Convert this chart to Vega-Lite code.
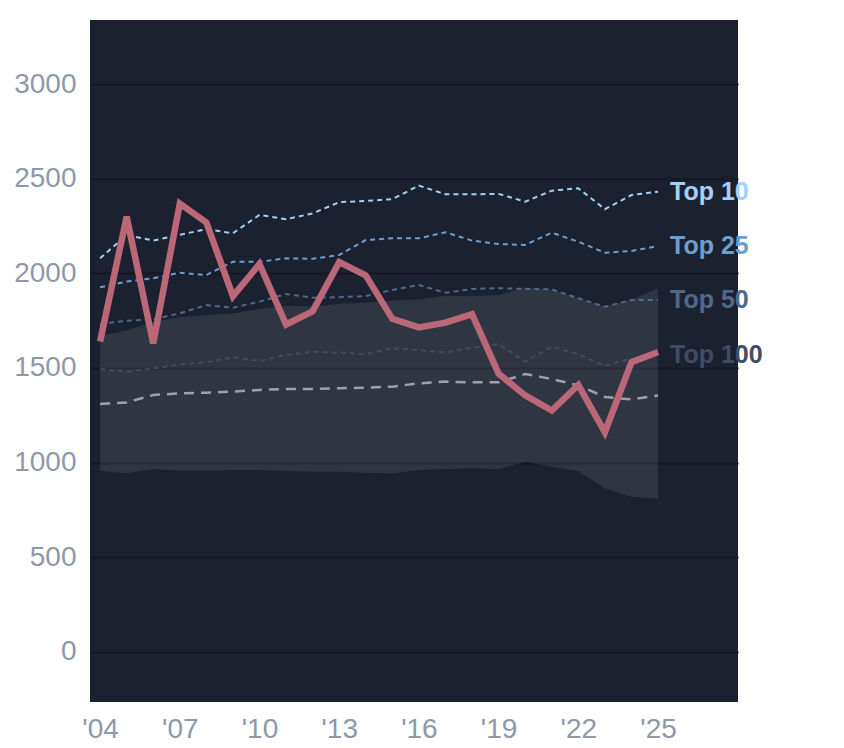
{
  "$schema": "https://vega.github.io/schema/vega-lite/v6.json",
  "width": 648,
  "height": 682,
  "autosize": {"type": "none"},
  "padding": {"left": 90, "top": 20, "right": 106, "bottom": 46},
  "background": "#ffffff",
  "datasets": {
    "band": [
      {"year": 2004, "lo": 955, "hi": 1670},
      {"year": 2005, "lo": 943, "hi": 1699},
      {"year": 2006, "lo": 966, "hi": 1745},
      {"year": 2007, "lo": 957, "hi": 1769},
      {"year": 2008, "lo": 957, "hi": 1779},
      {"year": 2009, "lo": 960, "hi": 1788},
      {"year": 2010, "lo": 960, "hi": 1813},
      {"year": 2011, "lo": 955, "hi": 1829},
      {"year": 2012, "lo": 951, "hi": 1824},
      {"year": 2013, "lo": 951, "hi": 1840},
      {"year": 2014, "lo": 946, "hi": 1845},
      {"year": 2015, "lo": 943, "hi": 1857},
      {"year": 2016, "lo": 960, "hi": 1862},
      {"year": 2017, "lo": 966, "hi": 1882},
      {"year": 2018, "lo": 969, "hi": 1880},
      {"year": 2019, "lo": 966, "hi": 1886},
      {"year": 2020, "lo": 1004, "hi": 1927},
      {"year": 2021, "lo": 978, "hi": 1913},
      {"year": 2022, "lo": 955, "hi": 1869},
      {"year": 2023, "lo": 863, "hi": 1824},
      {"year": 2024, "lo": 819, "hi": 1863},
      {"year": 2025, "lo": 807, "hi": 1920}
    ],
    "series": [
      {"year": 2004, "group": "Top 10", "value": 2080},
      {"year": 2005, "group": "Top 10", "value": 2204},
      {"year": 2006, "group": "Top 10", "value": 2174},
      {"year": 2007, "group": "Top 10", "value": 2205},
      {"year": 2008, "group": "Top 10", "value": 2234},
      {"year": 2009, "group": "Top 10", "value": 2213},
      {"year": 2010, "group": "Top 10", "value": 2310},
      {"year": 2011, "group": "Top 10", "value": 2287},
      {"year": 2012, "group": "Top 10", "value": 2318},
      {"year": 2013, "group": "Top 10", "value": 2377},
      {"year": 2014, "group": "Top 10", "value": 2384},
      {"year": 2015, "group": "Top 10", "value": 2393},
      {"year": 2016, "group": "Top 10", "value": 2465},
      {"year": 2017, "group": "Top 10", "value": 2419},
      {"year": 2018, "group": "Top 10", "value": 2419},
      {"year": 2019, "group": "Top 10", "value": 2421},
      {"year": 2020, "group": "Top 10", "value": 2380},
      {"year": 2021, "group": "Top 10", "value": 2438},
      {"year": 2022, "group": "Top 10", "value": 2451},
      {"year": 2023, "group": "Top 10", "value": 2340},
      {"year": 2024, "group": "Top 10", "value": 2415},
      {"year": 2025, "group": "Top 10", "value": 2433},
      {"year": 2004, "group": "Top 25", "value": 1927},
      {"year": 2005, "group": "Top 25", "value": 1957},
      {"year": 2006, "group": "Top 25", "value": 1975},
      {"year": 2007, "group": "Top 25", "value": 2004},
      {"year": 2008, "group": "Top 25", "value": 1992},
      {"year": 2009, "group": "Top 25", "value": 2062},
      {"year": 2010, "group": "Top 25", "value": 2062},
      {"year": 2011, "group": "Top 25", "value": 2080},
      {"year": 2012, "group": "Top 25", "value": 2078},
      {"year": 2013, "group": "Top 25", "value": 2098},
      {"year": 2014, "group": "Top 25", "value": 2177},
      {"year": 2015, "group": "Top 25", "value": 2186},
      {"year": 2016, "group": "Top 25", "value": 2186},
      {"year": 2017, "group": "Top 25", "value": 2218},
      {"year": 2018, "group": "Top 25", "value": 2174},
      {"year": 2019, "group": "Top 25", "value": 2156},
      {"year": 2020, "group": "Top 25", "value": 2151},
      {"year": 2021, "group": "Top 25", "value": 2216},
      {"year": 2022, "group": "Top 25", "value": 2168},
      {"year": 2023, "group": "Top 25", "value": 2110},
      {"year": 2024, "group": "Top 25", "value": 2119},
      {"year": 2025, "group": "Top 25", "value": 2145},
      {"year": 2004, "group": "Top 50", "value": 1733},
      {"year": 2005, "group": "Top 50", "value": 1750},
      {"year": 2006, "group": "Top 50", "value": 1758},
      {"year": 2007, "group": "Top 50", "value": 1789},
      {"year": 2008, "group": "Top 50", "value": 1833},
      {"year": 2009, "group": "Top 50", "value": 1819},
      {"year": 2010, "group": "Top 50", "value": 1851},
      {"year": 2011, "group": "Top 50", "value": 1891},
      {"year": 2012, "group": "Top 50", "value": 1872},
      {"year": 2013, "group": "Top 50", "value": 1874},
      {"year": 2014, "group": "Top 50", "value": 1881},
      {"year": 2015, "group": "Top 50", "value": 1913},
      {"year": 2016, "group": "Top 50", "value": 1939},
      {"year": 2017, "group": "Top 50", "value": 1898},
      {"year": 2018, "group": "Top 50", "value": 1918},
      {"year": 2019, "group": "Top 50", "value": 1922},
      {"year": 2020, "group": "Top 50", "value": 1918},
      {"year": 2021, "group": "Top 50", "value": 1916},
      {"year": 2022, "group": "Top 50", "value": 1869},
      {"year": 2023, "group": "Top 50", "value": 1824},
      {"year": 2024, "group": "Top 50", "value": 1860},
      {"year": 2025, "group": "Top 50", "value": 1860},
      {"year": 2004, "group": "Top 100", "value": 1495},
      {"year": 2005, "group": "Top 100", "value": 1480},
      {"year": 2006, "group": "Top 100", "value": 1498},
      {"year": 2007, "group": "Top 100", "value": 1519},
      {"year": 2008, "group": "Top 100", "value": 1530},
      {"year": 2009, "group": "Top 100", "value": 1557},
      {"year": 2010, "group": "Top 100", "value": 1537},
      {"year": 2011, "group": "Top 100", "value": 1569},
      {"year": 2012, "group": "Top 100", "value": 1586},
      {"year": 2013, "group": "Top 100", "value": 1581},
      {"year": 2014, "group": "Top 100", "value": 1574},
      {"year": 2015, "group": "Top 100", "value": 1604},
      {"year": 2016, "group": "Top 100", "value": 1595},
      {"year": 2017, "group": "Top 100", "value": 1581},
      {"year": 2018, "group": "Top 100", "value": 1607},
      {"year": 2019, "group": "Top 100", "value": 1627},
      {"year": 2020, "group": "Top 100", "value": 1533},
      {"year": 2021, "group": "Top 100", "value": 1613},
      {"year": 2022, "group": "Top 100", "value": 1572},
      {"year": 2023, "group": "Top 100", "value": 1511},
      {"year": 2024, "group": "Top 100", "value": 1550},
      {"year": 2025, "group": "Top 100", "value": 1570},
      {"year": 2004, "group": "Median", "value": 1310},
      {"year": 2005, "group": "Median", "value": 1318},
      {"year": 2006, "group": "Median", "value": 1357},
      {"year": 2007, "group": "Median", "value": 1366},
      {"year": 2008, "group": "Median", "value": 1369},
      {"year": 2009, "group": "Median", "value": 1375},
      {"year": 2010, "group": "Median", "value": 1384},
      {"year": 2011, "group": "Median", "value": 1389},
      {"year": 2012, "group": "Median", "value": 1389},
      {"year": 2013, "group": "Median", "value": 1393},
      {"year": 2014, "group": "Median", "value": 1396},
      {"year": 2015, "group": "Median", "value": 1401},
      {"year": 2016, "group": "Median", "value": 1419},
      {"year": 2017, "group": "Median", "value": 1428},
      {"year": 2018, "group": "Median", "value": 1424},
      {"year": 2019, "group": "Median", "value": 1424},
      {"year": 2020, "group": "Median", "value": 1468},
      {"year": 2021, "group": "Median", "value": 1442},
      {"year": 2022, "group": "Median", "value": 1408},
      {"year": 2023, "group": "Median", "value": 1346},
      {"year": 2024, "group": "Median", "value": 1334},
      {"year": 2025, "group": "Median", "value": 1355},
      {"year": 2004, "group": "Selected", "value": 1640},
      {"year": 2005, "group": "Selected", "value": 2300},
      {"year": 2006, "group": "Selected", "value": 1630},
      {"year": 2007, "group": "Selected", "value": 2370},
      {"year": 2008, "group": "Selected", "value": 2270},
      {"year": 2009, "group": "Selected", "value": 1880},
      {"year": 2010, "group": "Selected", "value": 2050},
      {"year": 2011, "group": "Selected", "value": 1730},
      {"year": 2012, "group": "Selected", "value": 1800},
      {"year": 2013, "group": "Selected", "value": 2060},
      {"year": 2014, "group": "Selected", "value": 1990},
      {"year": 2015, "group": "Selected", "value": 1760},
      {"year": 2016, "group": "Selected", "value": 1715},
      {"year": 2017, "group": "Selected", "value": 1740},
      {"year": 2018, "group": "Selected", "value": 1785},
      {"year": 2019, "group": "Selected", "value": 1470},
      {"year": 2020, "group": "Selected", "value": 1355},
      {"year": 2021, "group": "Selected", "value": 1275},
      {"year": 2022, "group": "Selected", "value": 1410},
      {"year": 2023, "group": "Selected", "value": 1160},
      {"year": 2024, "group": "Selected", "value": 1530},
      {"year": 2025, "group": "Selected", "value": 1585}
    ]
  },
  "encoding": {
    "x": {
      "field": "year",
      "type": "quantitative",
      "scale": {"domain": [2003.62, 2028.01], "nice": false, "zero": false},
      "axis": {
        "values": [2004, 2007, 2010, 2013, 2016, 2019, 2022, 2025],
        "format": "d",
        "labelExpr": "\"'\" + substring(datum.label, 2)",
        "grid": false,
        "labelPadding": 13
      },
      "title": null
    }
  },
  "layer": [
    {
      "data": {"name": "band"},
      "mark": {"type": "area", "color": "#ffffff", "opacity": 0.09},
      "encoding": {
        "y": {
          "field": "lo",
          "type": "quantitative",
          "scale": {"domain": [-267, 3341], "nice": false, "zero": false},
          "axis": {"values": [0, 500, 1000, 1500, 2000, 2500, 3000], "format": "d", "labelPadding": 14},
          "title": null
        },
        "y2": {"field": "hi"}
      }
    },
    {
      "data": {"name": "series"},
      "transform": [{"filter": "datum.group == 'Median'"}],
      "mark": {"type": "line", "color": "#9ca1ab", "strokeWidth": 2.5, "strokeDash": [10, 7]},
      "encoding": {"y": {"field": "value", "type": "quantitative"}}
    },
    {
      "data": {"name": "series"},
      "transform": [{"filter": "indexof(['Top 10', 'Top 25', 'Top 50', 'Top 100'], datum.group) >= 0"}],
      "mark": {"type": "line", "strokeWidth": 2, "strokeDash": [5, 4]},
      "encoding": {
        "y": {"field": "value", "type": "quantitative"},
        "detail": {"field": "group"},
        "color": {
          "field": "group",
          "type": "nominal",
          "scale": {
            "domain": ["Top 10", "Top 25", "Top 50", "Top 100"],
            "range": ["#a3d0f5", "#6d9ecd", "#4f6989", "#404b64"]
          },
          "legend": null
        }
      }
    },
    {
      "data": {"name": "series"},
      "transform": [{"filter": "datum.group == 'Selected'"}],
      "mark": {"type": "line", "color": "#b96779", "strokeWidth": 6.5},
      "encoding": {"y": {"field": "value", "type": "quantitative"}}
    },
    {
      "data": {"name": "series"},
      "transform": [
        {"filter": "datum.year == 2025 && indexof(['Top 10', 'Top 25', 'Top 50', 'Top 100'], datum.group) >= 0"}
      ],
      "mark": {
        "type": "text",
        "align": "left",
        "baseline": "middle",
        "dx": 12,
        "font": "Liberation Sans",
        "fontSize": 25,
        "fontWeight": "bold"
      },
      "encoding": {
        "y": {"field": "value", "type": "quantitative"},
        "text": {"field": "group"},
        "color": {"field": "group", "type": "nominal", "legend": null}
      }
    }
  ],
  "config": {
    "view": {"stroke": null, "fill": "#1c2130"},
    "axis": {
      "domain": false,
      "ticks": false,
      "tickSize": 0,
      "labelFont": "Liberation Sans",
      "labelFontSize": 28,
      "labelColor": "#8f98a8",
      "gridColor": "#141824",
      "gridWidth": 2
    }
  }
}
